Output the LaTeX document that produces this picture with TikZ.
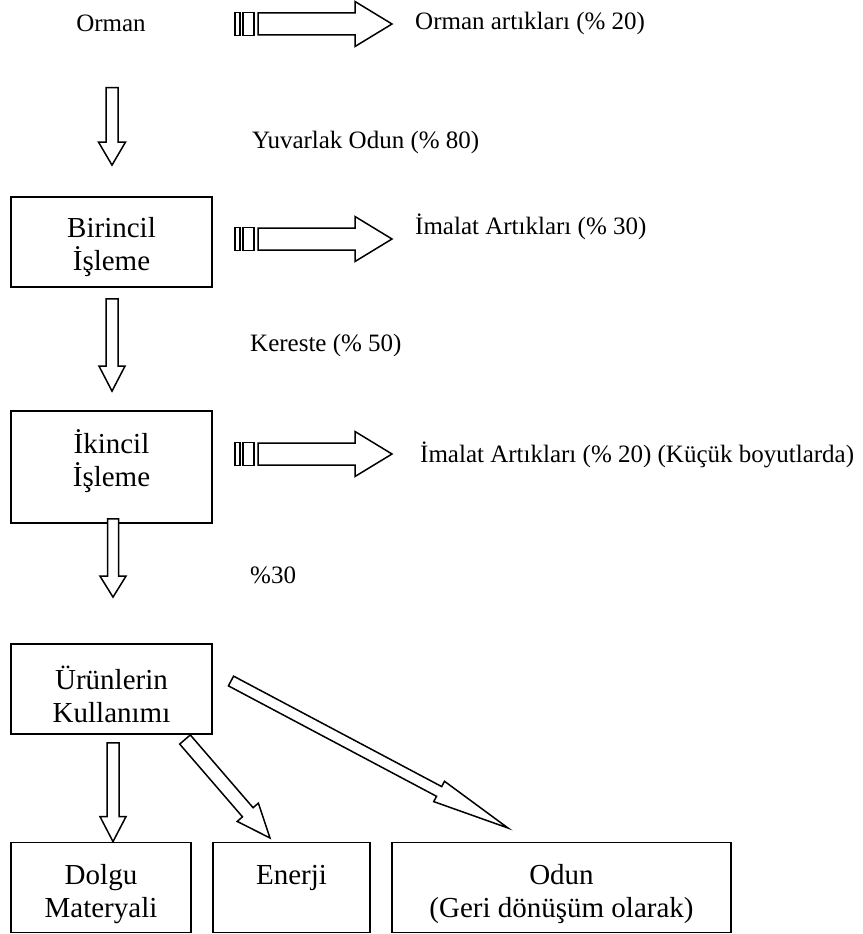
\documentclass[tikz,border=0pt]{standalone}
\usepackage{fontspec}
\setmainfont{Liberation Serif}
\usetikzlibrary{calc}

\tikzset{
  box/.style={draw, line width=1.8pt, inner sep=0pt},
  boxtext/.style={align=center, font=\fontsize{29}{33}\selectfont, inner sep=0pt},
  lbl/.style={font=\fontsize{25}{29}\selectfont, inner sep=0pt, anchor=west},
  fatline/.style={draw, line width=1.5pt, line join=miter, fill=white},
}

% hollow block arrow: tail, tip, shaft half-width, head half-width, head length
\newcommand\fatarrow[5]{%
  \coordinate (fa-base) at ($(#2)!#5!(#1)$);
  \draw[fatline] ($(#1)!#3!90:(#2)$) -- ($(fa-base)!#3!90:(#2)$)
    -- ($(fa-base)!#4!90:(#2)$) -- (#2) -- ($(fa-base)!#4!-90:(#2)$)
    -- ($(fa-base)!#3!-90:(#2)$) -- ($(#1)!#3!-90:(#2)$) -- cycle;
}

% residue arrow with two bars behind its tail: name, centre line y
\newcommand\wastearrow[2]{%
  \draw[fatline] (235,{#2-11.5}) rectangle (240,{#2+11.5});
  \draw[fatline] (243,{#2-11.5}) rectangle (254,{#2+11.5});
  \coordinate (#1-s) at (258,#2);
  \coordinate (#1-e) at (392,#2);
  \fatarrow{#1-s}{#1-e}{11pt}{22.5pt}{37pt}
}

\begin{document}
\begin{tikzpicture}[x=1pt,y=-1pt]
\useasboundingbox (0,0) rectangle (862,934);

% process boxes
\node[box, minimum width=201pt, minimum height=90pt]  (birincil) at (111.5,242) {};
\node[box, minimum width=201pt, minimum height=112pt] (ikincil)  at (111.5,467) {};
\node[box, minimum width=201pt, minimum height=90pt]  (urun)     at (111.5,689) {};
\node[box, minimum width=180pt, minimum height=90pt]  (dolgu)    at (101,887.5) {};
\node[box, minimum width=157pt, minimum height=90pt]  (enerji)   at (291.5,887.5) {};
\node[box, minimum width=339pt, minimum height=90pt]  (odun)     at (561.5,887.5) {};

% box captions
\node[boxtext] (birincil-t) at (111.5,247) {Birincil\\İşleme};
\node[boxtext] (ikincil-t)  at (111.5,461) {İkincil\\İşleme};
\node[boxtext] (urun-t)     at (111.5,694) {Ürünlerin\\Kullanımı};
\node[boxtext] (dolgu-t)    at (101,894)   {Dolgu\\Materyali};
\node[boxtext] (enerji-t)   at (291.5,878) {Enerji};
\node[boxtext] (odun-t)     at (561.5,894) {Odun\\(Geri dönüşüm olarak)};

% flow labels
\node[lbl, anchor=center] (orman) at (111,23) {Orman};
\node[lbl] (l-orman)   at (415,23)  {Orman artıkları (\% 20)};
\node[lbl] (l-yuv)     at (252,142) {Yuvarlak Odun (\% 80)};
\node[lbl] (l-imalat1) at (415,227) {İmalat Artıkları (\% 30)};
\node[lbl] (l-ker)     at (250,345) {Kereste (\% 50)};
\node[lbl] (l-imalat2) at (420,455) {İmalat Artıkları (\% 20) (Küçük boyutlarda)};
\node[lbl] (l-yuzde)   at (250,575) {\%30};

% residue arrows
\wastearrow{w1}{24}
\wastearrow{w2}{239}
\wastearrow{w3}{454}

% main flow downwards
\coordinate (d1-s) at ($(orman.south)+(1,56)$);
\coordinate (d1-e) at ($(birincil.north)+(0.5,-31)$);
\fatarrow{d1-s}{d1-e}{6pt}{13.5pt}{23pt}

\coordinate (d2-s) at ($(birincil.south)+(0.5,11)$);
\coordinate (d2-e) at ($(ikincil.north)+(0.5,-19)$);
\fatarrow{d2-s}{d2-e}{6pt}{13pt}{25pt}

\coordinate (d3-s) at ($(ikincil.south)+(1.5,-5)$);
\coordinate (d3-e) at ($(urun.north)+(1.5,-46)$);
\fatarrow{d3-s}{d3-e}{5.5pt}{13pt}{21pt}

\coordinate (d4-s) at ($(urun.south)+(1.5,8)$);
\coordinate (d4-e) at ($(dolgu.north)+(12,0)$);
\fatarrow{d4-s}{d4-e}{6pt}{13pt}{25pt}

% branches to energy and recycled wood
\coordinate (e-s) at (185,739.5);
\coordinate (e-e) at (270,838);
\fatarrow{e-s}{e-e}{7pt}{14pt}{34pt}

\coordinate (o-s) at (231,681);
\coordinate (o-e) at (508,828);
\fatarrow{o-s}{o-e}{5.5pt}{11.5pt}{78pt}
\end{tikzpicture}
\end{document}
